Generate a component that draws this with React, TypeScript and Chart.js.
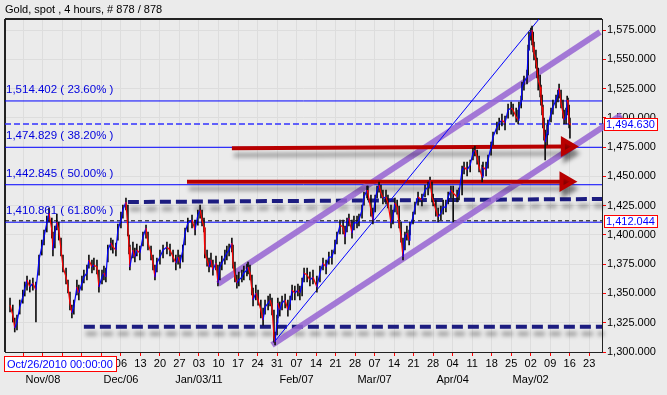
import React, { useEffect, useRef } from "react";
import { Chart, registerables } from "chart.js";

Chart.register(...registerables);

const FONT = '"Liberation Sans", Arial, sans-serif';

// Day offsets from Monday Nov 08 2010 (7 units per week)
const dayOffsets = [
  -11.8, -10.8, -10.1, -9.3, -8.3, -7.2, -6.5, -5.7, -4.7, -3.6, -2.5, -1.4, -0.4, 0.4, 1.4, 2.2, 3.2, 3.6, 4.3, 5.0,
  5.7, 6.5, 7.2, 8.3, 9.0, 9.7, 10.4, 11.1, 12.2, 12.9, 14.0, 14.7, 15.8, 16.5, 17.6, 18.3, 19.4, 20.1, 21.2, 21.9,
  22.6, 23.3, 24.4, 25.1, 26.2, 26.9, 28.0, 28.7, 29.8, 30.5, 30.9, 31.2, 32.3, 33.0, 33.7, 34.8, 35.9, 37.0, 37.7, 38.8,
  39.5, 40.2, 40.9, 42.0, 43.1, 44.5, 45.6, 46.7, 47.7, 48.5, 49.2, 50.2, 51.0, 52.0, 53.5, 54.6, 55.6, 56.4, 57.1, 57.8,
  58.1, 58.9, 59.6, 60.3, 61.0, 62.1, 62.8, 63.5, 64.2, 65.3, 66.0, 66.8, 67.8, 68.2, 68.9, 69.6, 70.3, 71.4, 72.1, 73.2,
  73.6, 74.3, 75.0, 75.4, 76.4, 77.2, 78.2, 79.0, 79.7, 80.8, 81.5, 82.2, 82.9, 83.3, 84.0, 84.3, 85.0, 85.8, 86.9, 87.9,
  88.7, 89.4, 90.4, 91.5, 92.2, 93.0, 93.7, 94.8, 95.8, 96.9, 98.3, 99.4, 100.5, 101.6, 102.6, 103.7, 104.8, 105.5, 106.6, 107.7,
  108.4, 109.1, 109.8, 110.9, 111.6, 112.7, 113.4, 114.5, 115.2, 116.3, 116.6, 117.7, 118.4, 119.2, 119.9, 120.6, 121.3, 122.0, 123.1, 123.8,
  124.9, 125.6, 126.3, 127.1, 127.8, 128.5, 129.2, 129.9, 130.6, 131.4, 131.7, 132.8, 133.5, 134.6, 136.0, 137.1, 138.2, 138.9, 139.6, 140.0,
  141.0, 141.8, 142.8, 143.6, 144.6, 145.4, 146.4, 147.2, 148.6, 149.3, 150.4, 151.1, 152.2, 153.3, 154.3, 155.0, 155.8, 156.5, 157.6, 157.9,
  159.0, 159.7, 160.8, 161.5, 162.9, 163.7, 164.7, 165.8, 166.9, 168.0, 168.7, 169.8, 170.5, 170.8, 171.6, 171.9, 172.6, 173.7, 174.1, 174.4,
  175.1, 175.5, 175.9, 176.2, 176.9, 177.3, 177.7, 178.4, 178.7, 179.1, 179.4, 179.8, 180.2, 180.9, 181.2, 182.3, 183.0, 184.1, 184.8, 185.2,
  185.9, 186.6, 187.0, 187.7, 188.1, 188.4, 188.8, 189.1,
];

const closes = [
  1340.1, 1331.6, 1320.5, 1325.6, 1338.4, 1347.0, 1354.6, 1361.5, 1355.5, 1358.9,
  1352.9, 1378.6, 1389.7, 1398.2, 1410.2, 1418.7, 1404.2, 1387.1, 1401.6, 1411.0,
  1404.2, 1387.1, 1372.6, 1364.0, 1355.5, 1341.8, 1333.3, 1338.4, 1355.5, 1350.4,
  1358.9, 1364.0, 1367.5, 1378.6, 1372.6, 1374.3, 1372.6, 1355.5, 1364.0, 1367.5,
  1364.0, 1387.1, 1393.1, 1389.7, 1387.1, 1404.2, 1412.7, 1421.3, 1428.1, 1404.2,
  1389.7, 1372.6, 1387.1, 1381.1, 1387.1, 1384.5, 1398.2, 1405.9, 1393.1, 1384.5,
  1376.0, 1364.0, 1376.0, 1381.1, 1387.1, 1389.7, 1387.1, 1381.1, 1376.0, 1381.1,
  1376.0, 1387.1, 1401.6, 1410.2, 1412.7, 1404.2, 1417.0, 1421.3, 1412.7, 1406.7,
  1384.5, 1378.6, 1372.6, 1378.6, 1370.0, 1376.0, 1358.9, 1372.6, 1376.0, 1381.1,
  1384.5, 1387.1, 1393.1, 1376.0, 1364.0, 1358.9, 1361.5, 1364.0, 1367.5, 1370.0,
  1372.6, 1367.5, 1352.9, 1344.4, 1350.4, 1344.4, 1335.9, 1327.3, 1338.4, 1341.8,
  1344.4, 1338.4, 1312.8, 1308.5, 1324.8, 1341.8, 1335.9, 1341.8, 1344.4, 1335.9,
  1341.8, 1352.9, 1350.4, 1352.9, 1350.4, 1357.2, 1367.5, 1365.7, 1361.5, 1364.0,
  1355.5, 1367.5, 1376.0, 1372.6, 1381.1, 1381.1, 1389.7, 1398.2, 1408.4, 1406.7,
  1398.2, 1410.2, 1414.4, 1401.6, 1410.2, 1410.2, 1412.7, 1421.3, 1432.4, 1438.3,
  1435.8, 1421.3, 1412.7, 1429.8, 1438.3, 1442.6, 1435.8, 1431.5, 1432.4, 1427.2,
  1410.2, 1415.3, 1427.2, 1423.8, 1410.2, 1398.2, 1381.1, 1398.2, 1401.6, 1395.6,
  1406.7, 1415.3, 1423.8, 1432.4, 1429.8, 1438.3, 1440.9, 1446.9, 1432.4, 1429.8,
  1421.3, 1415.3, 1418.7, 1423.8, 1423.8, 1432.4, 1438.3, 1435.8, 1432.4, 1435.8,
  1455.4, 1458.0, 1455.4, 1459.7, 1469.9, 1472.5, 1466.5, 1458.0, 1449.4, 1458.0,
  1455.4, 1464.0, 1475.1, 1483.6, 1492.1, 1495.6, 1498.1, 1495.6, 1506.7, 1508.4,
  1506.7, 1500.7, 1498.1, 1508.4, 1513.5, 1526.3, 1530.6, 1534.8, 1557.9, 1568.1,
  1572.4, 1575.0, 1560.5, 1555.3, 1549.4, 1540.8, 1532.3, 1526.3, 1517.8, 1509.2,
  1498.1, 1487.0, 1479.3, 1487.0, 1492.1, 1504.1, 1509.2, 1515.2, 1519.5, 1525.4,
  1512.6, 1504.1, 1498.1, 1500.7, 1515.2, 1512.6, 1495.6, 1494.6,
];

const highs = [
  1346.1, 1340.1, 1329.0, 1331.6, 1344.4, 1352.9, 1359.8, 1364.9, 1361.5, 1363.2,
  1359.8, 1382.8, 1395.6, 1404.2, 1416.1, 1423.0, 1414.4, 1402.5, 1407.6, 1417.8,
  1411.0, 1397.3, 1382.8, 1371.7, 1361.5, 1351.2, 1340.1, 1344.4, 1361.5, 1357.2,
  1364.9, 1370.0, 1374.3, 1382.8, 1378.6, 1380.3, 1378.6, 1370.0, 1370.0, 1373.4,
  1371.7, 1391.4, 1397.3, 1395.6, 1393.1, 1409.3, 1419.6, 1425.5, 1431.5, 1425.5,
  1399.9, 1391.4, 1393.9, 1388.8, 1392.2, 1390.5, 1402.5, 1408.4, 1402.5, 1390.5,
  1382.8, 1374.3, 1380.3, 1387.1, 1391.4, 1393.9, 1392.2, 1387.1, 1382.8, 1387.1,
  1382.8, 1391.4, 1405.9, 1414.4, 1417.0, 1412.7, 1421.3, 1425.5, 1421.3, 1414.4,
  1405.9, 1387.1, 1380.3, 1384.5, 1378.6, 1382.0, 1374.3, 1376.9, 1382.0, 1387.1,
  1390.5, 1392.2, 1397.3, 1391.4, 1376.9, 1365.7, 1368.3, 1370.0, 1373.4, 1375.1,
  1376.9, 1374.3, 1365.7, 1354.6, 1357.2, 1352.9, 1344.4, 1337.6, 1344.4, 1347.8,
  1349.5, 1346.1, 1335.9, 1317.1, 1331.6, 1346.1, 1342.7, 1347.8, 1349.5, 1344.4,
  1347.8, 1357.2, 1356.4, 1358.1, 1356.4, 1363.2, 1371.7, 1371.7, 1368.3, 1370.0,
  1364.9, 1373.4, 1380.3, 1378.6, 1385.4, 1387.1, 1395.6, 1402.5, 1412.7, 1412.7,
  1407.6, 1414.4, 1417.8, 1412.7, 1416.1, 1416.1, 1417.8, 1425.5, 1436.6, 1441.8,
  1441.8, 1434.1, 1423.0, 1434.1, 1441.8, 1445.2, 1442.6, 1438.3, 1438.3, 1434.1,
  1425.5, 1421.3, 1431.5, 1429.8, 1424.7, 1411.0, 1397.3, 1402.5, 1407.6, 1404.2,
  1411.0, 1419.6, 1428.1, 1436.6, 1434.9, 1442.6, 1445.2, 1449.4, 1445.2, 1434.9,
  1429.8, 1423.0, 1424.7, 1429.8, 1429.8, 1436.6, 1441.8, 1441.8, 1438.3, 1440.0,
  1458.8, 1462.3, 1462.3, 1464.0, 1474.2, 1475.9, 1472.5, 1467.4, 1459.7, 1462.3,
  1462.3, 1468.2, 1479.3, 1487.9, 1496.4, 1499.8, 1503.2, 1501.5, 1511.8, 1513.5,
  1511.8, 1508.4, 1506.7, 1513.5, 1518.6, 1530.6, 1535.7, 1540.8, 1562.2, 1573.3,
  1576.7, 1578.4, 1573.3, 1564.7, 1557.9, 1551.1, 1542.5, 1536.5, 1528.0, 1519.5,
  1510.9, 1499.8, 1489.6, 1493.8, 1498.1, 1508.4, 1515.2, 1519.5, 1523.7, 1528.9,
  1523.7, 1515.2, 1506.7, 1508.4, 1518.6, 1516.9, 1510.9, 1499.8,
];

const lows = [
  1334.2, 1325.6, 1317.1, 1318.8, 1332.4, 1341.8, 1347.8, 1352.9, 1351.2, 1352.9,
  1325.6, 1365.7, 1382.8, 1391.4, 1402.5, 1411.0, 1397.3, 1382.0, 1388.8, 1404.2,
  1395.6, 1382.0, 1368.3, 1358.1, 1350.4, 1335.9, 1329.0, 1332.4, 1348.7, 1344.4,
  1352.9, 1358.9, 1361.5, 1371.7, 1367.5, 1370.0, 1366.6, 1351.2, 1358.1, 1361.5,
  1359.8, 1376.9, 1387.1, 1384.5, 1382.0, 1395.6, 1405.9, 1414.4, 1421.3, 1399.1,
  1383.7, 1370.0, 1380.3, 1376.9, 1382.0, 1378.6, 1390.5, 1397.3, 1387.1, 1378.6,
  1370.0, 1361.5, 1368.3, 1375.1, 1380.3, 1383.7, 1382.0, 1376.9, 1370.0, 1375.1,
  1371.7, 1376.9, 1391.4, 1402.5, 1405.9, 1399.9, 1408.4, 1414.4, 1407.6, 1402.5,
  1380.3, 1373.4, 1368.3, 1372.6, 1365.7, 1370.0, 1356.4, 1361.5, 1370.0, 1375.1,
  1378.6, 1382.0, 1385.4, 1371.7, 1359.8, 1354.6, 1356.4, 1359.8, 1361.5, 1364.9,
  1366.6, 1361.5, 1348.7, 1339.3, 1344.4, 1340.1, 1329.0, 1323.0, 1332.4, 1335.9,
  1339.3, 1331.6, 1308.5, 1306.0, 1314.5, 1329.0, 1330.7, 1335.9, 1337.6, 1330.7,
  1335.9, 1344.4, 1344.4, 1347.8, 1344.4, 1347.8, 1359.8, 1359.8, 1356.4, 1358.1,
  1351.2, 1359.8, 1370.0, 1366.6, 1375.1, 1375.1, 1383.7, 1392.2, 1400.8, 1400.8,
  1392.2, 1402.5, 1407.6, 1397.3, 1404.2, 1405.9, 1407.6, 1414.4, 1425.5, 1431.5,
  1429.8, 1416.1, 1409.3, 1419.6, 1431.5, 1436.6, 1431.5, 1426.4, 1426.4, 1423.0,
  1405.9, 1409.3, 1419.6, 1417.8, 1405.9, 1393.9, 1378.6, 1387.1, 1395.6, 1391.4,
  1399.9, 1409.3, 1417.8, 1425.5, 1424.7, 1432.4, 1434.1, 1440.0, 1428.1, 1424.7,
  1416.1, 1411.0, 1412.7, 1417.8, 1419.6, 1426.4, 1431.5, 1411.0, 1428.1, 1429.8,
  1434.1, 1452.0, 1450.3, 1453.7, 1464.0, 1467.4, 1460.5, 1453.7, 1445.2, 1450.3,
  1450.3, 1457.1, 1468.2, 1476.8, 1486.2, 1489.6, 1493.0, 1489.6, 1499.8, 1503.2,
  1501.5, 1496.4, 1494.7, 1499.8, 1508.4, 1515.2, 1523.7, 1528.9, 1536.5, 1557.9,
  1566.4, 1562.2, 1556.2, 1549.4, 1542.5, 1534.0, 1523.7, 1517.8, 1510.9, 1502.4,
  1491.3, 1481.0, 1464.0, 1476.8, 1485.3, 1496.4, 1503.2, 1508.4, 1513.5, 1516.9,
  1508.4, 1499.8, 1494.7, 1494.7, 1505.0, 1502.4, 1491.3, 1482.7,
];

// X axis: weekly ticks (days from Nov 08 2010)
const weekTicks = [-7, 0, 7, 14, 21, 28, 35, 42, 49, 56, 63, 70, 77, 84, 91, 98, 105, 112, 119, 126, 133, 140, 147, 154, 161, 168, 175, 182, 189, 196];
const dayLabels = ["01", "08", "15", "22", "29", "06", "13", "20", "27", "03", "10", "17", "24", "31", "07", "14", "21", "28", "07", "14", "21", "28", "04", "11", "18", "25", "02", "09", "16", "23"];
const monthLabels = ["", "Nov/08", "", "", "", "Dec/06", "", "", "", "Jan/03/11", "", "", "", "", "Feb/07", "", "", "", "Mar/07", "", "", "", "Apr/04", "", "", "", "May/02", "", "", ""];
const X_MIN = -13.6;
const X_MAX = 200.6;

// Y axis
const yTicks = [1300, 1325, 1350, 1375, 1400, 1425, 1450, 1475, 1500, 1525, 1550, 1575];
const Y_MIN = 1300;
const Y_MAX = 1584.4;

// Fibonacci levels
const fibLevels = [1514.402, 1474.829, 1442.845, 1410.861];
const fibLabels = ["1,514.402 ( 23.60% )", "1,474.829 ( 38.20% )", "1,442.845 ( 50.00% )", "1,410.861 ( 61.80% )"];
const lastPrice = 1494.63;
const refPrice = 1412.044;

// Drawn studies (endpoints in day / price units)
const upperChannelX = [62.8, 199.9];
const upperChannelY = [1358.1, 1573.3];
const lowerChannelX = [82.2, 207.5];
const lowerChannelY = [1306.0, 1502.4];
const trendLineX = [82.9, 178.0];
const trendLineY = [1308.3, 1584.4];
const resistanceX = [30.5, 200.6];
const resistanceY = [1428.1, 1430.7];
const supportX = [14.7, 200.6];
const supportY = [1321.5, 1321.5];
const arrowUpperX = [67.8, 188.0];
const arrowUpperY = [1474.0, 1475.5];
const arrowLowerX = [51.7, 187.5];
const arrowLowerY = [1445.5, 1445.5];

const pts = (xs: number[], ys: number[]) => xs.map((x, i) => ({ x, y: ys[i] }));

const fmt = (v: number) => {
  const s = v.toFixed(3);
  const [i, f] = s.split(".");
  return i.replace(/\B(?=(\d{3})+(?!\d))/g, ",") + "." + f;
};

const shadowPlugin = {
  id: "shadowPlugin",
  beforeDatasetDraw(chart: any, args: any) {
    const ds = chart.data.datasets[args.index];
    if (ds.shadow) {
      const c = chart.ctx;
      c.save();
      c.shadowColor = "rgba(0,0,0,0.35)";
      c.shadowBlur = 4;
      c.shadowOffsetX = 2;
      c.shadowOffsetY = 7;
    }
  },
  afterDatasetDraw(chart: any, args: any) {
    const ds = chart.data.datasets[args.index];
    if (ds.shadow) chart.ctx.restore();
  },
};

const framePlugin = {
  id: "framePlugin",
  beforeDatasetsDraw(chart: any) {
    const { ctx, chartArea: a } = chart;
    ctx.save();
    ctx.strokeStyle = "#222";
    ctx.lineWidth = 1;
    ctx.strokeRect(a.left + 0.5, a.top + 0.5, a.right - a.left, a.bottom - a.top);
    ctx.lineWidth = 2;
    ctx.beginPath();
    ctx.moveTo(a.left, a.top);
    ctx.lineTo(a.left, a.bottom);
    ctx.moveTo(a.left, a.top);
    ctx.lineTo(a.right, a.top);
    ctx.stroke();
    ctx.restore();
  },
  afterDatasetsDraw(chart: any) {
    const { ctx, chartArea: a, scales } = chart;
    const y = scales.y;
    ctx.save();
    ctx.font = `11.5px ${FONT}`;
    ctx.fillStyle = "#0000DD";
    ctx.textBaseline = "middle";
    ctx.textAlign = "left";
    fibLevels.forEach((lv, i) => {
      ctx.fillText(fibLabels[i], a.left + 1, y.getPixelForValue(lv) - 11);
    });
    ctx.restore();
  },
  afterDraw(chart: any) {
    const { ctx, chartArea: a, scales } = chart;
    const y = scales.y;
    ctx.save();
    ctx.font = `11px ${FONT}`;
    ctx.textBaseline = "middle";
    ctx.textAlign = "left";
    [lastPrice, refPrice].forEach((v) => {
      const py = Math.round(y.getPixelForValue(v));
      ctx.fillStyle = "#FFFFFF";
      ctx.fillRect(a.right + 2, py - 6, 54, 13);
      ctx.strokeStyle = "#FF0000";
      ctx.lineWidth = 1;
      ctx.strokeRect(a.right + 2.5, py - 5.5, 53, 12);
      ctx.fillStyle = "#0000FF";
      ctx.fillText(fmt(v), a.right + 4, py + 1);
    });
    // start date box
    ctx.fillStyle = "#FFFFFF";
    ctx.fillRect(4, 356, 113, 16);
    ctx.strokeStyle = "#FF0000";
    ctx.strokeRect(4.5, 356.5, 112, 15);
    ctx.fillStyle = "#0000FF";
    ctx.fillText("Oct/26/2010 00:00:00", 7, 364.5);
    // title
    ctx.fillStyle = "#000";
    ctx.fillText("Gold, spot , 4 hours, # 878 / 878", 5, 10);
    ctx.restore();
  },
};

export default function App() {
  const ref = useRef<HTMLCanvasElement | null>(null);

  useEffect(() => {
    const canvas = ref.current;
    if (!canvas) return;
    const pricePts = pts(dayOffsets, closes);
    const rangePts = dayOffsets.map((x, i) => ({ x, y: [lows[i], highs[i]] }));
    const full = (v: number) => [
      { x: X_MIN, y: v },
      { x: X_MAX, y: v },
    ];
    const lineDs = (data: any, extra: any) => ({
      type: "line",
      data,
      pointRadius: 0,
      tension: 0,
      fill: false,
      ...extra,
    });

    const chart = new Chart(canvas, {
      type: "line",
      data: {
        datasets: [
          lineDs(pricePts, {
            order: 0,
            borderWidth: 1.2,
            borderColor: "#0000FF",
            segment: {
              borderColor: (c: any) => (c.p1.parsed.y < c.p0.parsed.y ? "#FF0000" : "#0000FF"),
            },
          }),
          {
            type: "bar",
            order: 1,
            data: rangePts,
            backgroundColor: "#111111",
            barThickness: 1,
            grouped: false,
          },
          lineDs(pts(trendLineX, trendLineY), { order: 2, borderWidth: 1, borderColor: "#0000FF" }),
          lineDs(pts(arrowUpperX, arrowUpperY), {
            order: 3,
            borderWidth: 4,
            borderColor: "#B80000",
            pointRadius: [0, 8],
            pointStyle: "triangle",
            rotation: 90,
            pointBackgroundColor: "#B80000",
            pointBorderColor: "#B80000",
            shadow: true,
          }),
          lineDs(pts(arrowLowerX, arrowLowerY), {
            order: 3,
            borderWidth: 4,
            borderColor: "#B80000",
            pointRadius: [0, 8],
            pointStyle: "triangle",
            rotation: 90,
            pointBackgroundColor: "#B80000",
            pointBorderColor: "#B80000",
            shadow: true,
          }),
          lineDs(pts(upperChannelX, upperChannelY), {
            order: 4,
            borderWidth: 6,
            borderColor: "rgba(150,100,210,0.85)",
            clip: false,
          }),
          lineDs(pts(lowerChannelX, lowerChannelY), {
            order: 4,
            borderWidth: 6,
            borderColor: "rgba(150,100,210,0.85)",
            clip: false,
          }),
          lineDs(pts(resistanceX, resistanceY), {
            order: 5,
            borderWidth: 4,
            borderColor: "#1C1C80",
            borderDash: [11, 5],
            shadow: true,
            clip: false,
          }),
          lineDs(pts(supportX, supportY), {
            order: 5,
            borderWidth: 4,
            borderColor: "#1C1C80",
            borderDash: [11, 5],
            shadow: true,
            clip: false,
          }),
          lineDs(full(refPrice), { order: 6, borderWidth: 1, borderColor: "#000000", borderDash: [4, 3] }),
          lineDs(full(lastPrice), { order: 6, borderWidth: 1.5, borderColor: "#3333FF", borderDash: [6, 3] }),
          ...fibLevels.map((lv) => lineDs(full(lv), { order: 7, borderWidth: 1, borderColor: "#0000FF" })),
        ] as any,
      },
      options: {
        responsive: false,
        animation: false,
        events: [],
        layout: { autoPadding: false, padding: { left: 5, top: 19, right: 0, bottom: 0 } },
        plugins: {
          legend: { display: false },
          tooltip: { enabled: false },
          title: { display: false },
        },
        scales: {
          x: {
            type: "linear",
            min: X_MIN,
            max: X_MAX,
            offset: false,
            afterBuildTicks: (s: any) => {
              s.ticks = weekTicks.map((v) => ({ value: v }));
            },
            afterFit: (s: any) => {
              s.height = 43;
              s.paddingLeft = 0;
              s.paddingRight = 0;
            },
            grid: { color: "#DDDDDD", tickColor: "#FF0000", tickLength: 4, offset: false },
            border: { display: false },
            ticks: {
              autoSkip: false,
              maxRotation: 0,
              minRotation: 0,
              padding: 0,
              color: "#000",
              font: { family: FONT, size: 11, lineHeight: 1.45 },
              callback: (_v: any, i: number) => (monthLabels[i] ? [dayLabels[i], monthLabels[i]] : dayLabels[i]),
            },
          },
          y: {
            type: "linear",
            position: "right",
            min: Y_MIN,
            max: Y_MAX,
            afterBuildTicks: (s: any) => {
              s.ticks = yTicks.map((v) => ({ value: v }));
            },
            afterFit: (s: any) => {
              s.width = 65;
              s.paddingTop = 0;
              s.paddingBottom = 0;
            },
            grid: { color: "#DDDDDD", tickColor: "#FF0000", tickLength: 4 },
            border: { display: false },
            ticks: {
              padding: 1,
              color: "#000",
              font: { family: FONT, size: 11 },
              callback: (v: any) => fmt(Number(v)),
            },
          },
        },
      } as any,
      plugins: [shadowPlugin, framePlugin] as any,
    });
    return () => chart.destroy();
  }, []);

  return (
    <div style={{ position: "absolute", left: 0, top: 0, width: 667, height: 395, background: "#EBEBEB" }}>
      <canvas ref={ref} width={667} height={395} style={{ display: "block" }} />
    </div>
  );
}
